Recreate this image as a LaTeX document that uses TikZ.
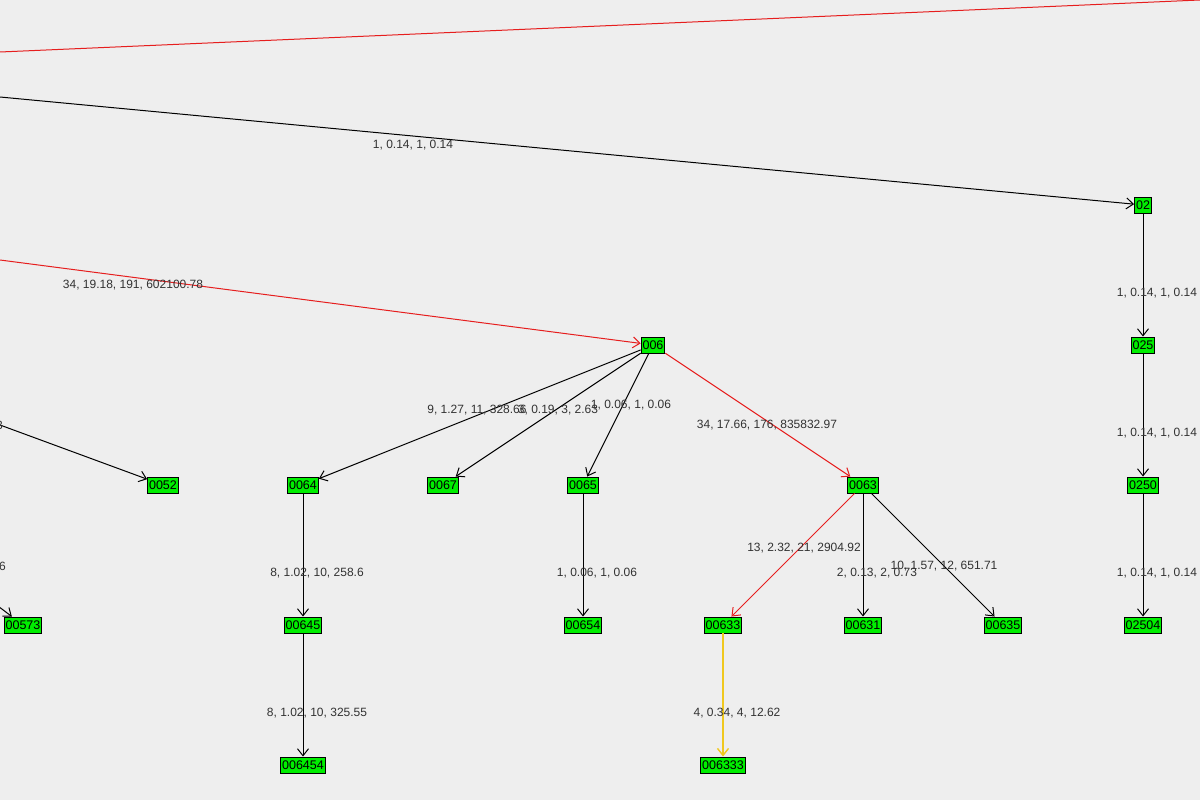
\documentclass[tikz,border=0pt]{standalone}
\usepackage{fontspec}
\setmainfont{Liberation Sans}
\usetikzlibrary{arrows.meta}
\definecolor{bg}{RGB}{238,238,238}
\definecolor{gr}{RGB}{0,238,0}
\definecolor{rd}{RGB}{230,30,30}
\definecolor{yl}{RGB}{240,200,30}
\definecolor{tx}{RGB}{50,50,50}
\begin{document}
\begin{tikzpicture}[x=1pt,y=-1pt,
  vx/.style={draw=black,fill=gr,inner xsep=1.5pt,inner ysep=0pt,minimum height=16pt,line width=0.9pt,font=\fontsize{12.5}{13}\selectfont},
  lb/.style={font=\fontsize{12}{13}\selectfont,text=tx,inner sep=0pt},
  ed/.style={-{Straight Barb[length=7pt,width=11pt]},line width=1pt},
]
\fill[bg] (0,0) rectangle (1200,800);
\useasboundingbox (0,0) rectangle (1200,800);
\node[vx] (02) at (1143,205) {02};
\node[vx] (025) at (1143,345) {025};
\node[vx] (0250) at (1143,485) {0250};
\node[vx] (02504) at (1143,625) {02504};
\node[vx] (006) at (653,345) {006};
\node[vx] (0052) at (163,485) {0052};
\node[vx] (0064) at (303,485) {0064};
\node[vx] (0067) at (443,485) {0067};
\node[vx] (0065) at (583,485) {0065};
\node[vx] (0063) at (863,485) {0063};
\node[vx] (00573) at (23,625) {00573};
\node[vx] (00645) at (303,625) {00645};
\node[vx] (00654) at (583,625) {00654};
\node[vx] (00633) at (723,625) {00633};
\node[vx] (00631) at (863,625) {00631};
\node[vx] (00635) at (1003,625) {00635};
\node[vx] (006454) at (303,765) {006454};
\node[vx] (006333) at (723,765) {006333};
\coordinate (a) at (0,52); \coordinate (b) at (1200,0);
\coordinate (c) at (0,97); \coordinate (d) at (0,260);
\coordinate (e) at (0,425); \coordinate (f) at (-10,600);
\draw[rd,line width=1pt] (a) -- (b);
\draw[ed] (c) -- (02);
\draw[ed,rd] (d) -- (006);
\draw[ed] (e) -- (0052);
\draw[ed] (f) -- (00573);
\draw[ed] (02) -- (025);
\draw[ed] (025) -- (0250);
\draw[ed] (0250) -- (02504);
\draw[ed] (006) -- (0064);
\draw[ed] (006) -- (0067);
\draw[ed] (006) -- (0065);
\draw[ed,rd] (006) -- (0063);
\draw[ed] (0064) -- (00645);
\draw[ed] (00645) -- (006454);
\draw[ed] (0065) -- (00654);
\draw[ed,rd] (0063) -- (00633);
\draw[ed] (0063) -- (00631);
\draw[ed] (0063) -- (00635);
\draw[ed,yl,line width=1.4pt] (00633) -- (006333);
\node[lb] (l1) at (413,145) {1, 0.14, 1, 0.14};
\node[lb] (l2) at (133,285) {34, 19.18, 191, 602100.78};
\node[lb,anchor=east] (l3) at (3,425) {3};
\node[lb,anchor=east] (l4) at (6,566) {6};
\node[lb] (l5) at (477,410) {9, 1.27, 11, 328.66};
\node[lb] (l6) at (558,410) {3, 0.19, 3, 2.63};
\node[lb] (l7) at (631,405) {1, 0.06, 1, 0.06};
\node[lb] (l8) at (767,425) {34, 17.66, 176, 835832.97};
\node[lb] (l9) at (317,573) {8, 1.02, 10, 258.6};
\node[lb] (l10) at (597,573) {1, 0.06, 1, 0.06};
\node[lb] (l11) at (804,548) {13, 2.32, 21, 2904.92};
\node[lb] (l12) at (877,573) {2, 0.13, 2, 0.73};
\node[lb] (l13) at (944,566) {10, 1.57, 12, 651.71};
\node[lb] (l14) at (317,713) {8, 1.02, 10, 325.55};
\node[lb] (l15) at (737,713) {4, 0.34, 4, 12.62};
\node[lb] (l16) at (1157,293) {1, 0.14, 1, 0.14};
\node[lb] (l17) at (1157,433) {1, 0.14, 1, 0.14};
\node[lb] (l18) at (1157,573) {1, 0.14, 1, 0.14};
\end{tikzpicture}
\end{document}
